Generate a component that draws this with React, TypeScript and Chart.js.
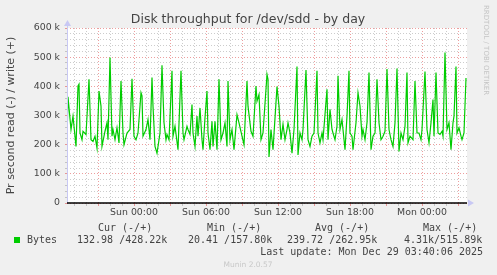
import React, { useEffect, useRef } from "react";
import { Chart, registerables } from "chart.js";

Chart.register(...registerables);

// minutes relative to Sun 00:00
const times = [
  -335, -330, -315, -305, -290, -280, -275, -270, -260, -255, -240, -225, -215, -205, -195, -185,
  -175, -165, -160, -145, -135, -130, -120, -110, -105, -95, -85, -75, -65, -55, -50, -35,
  -20, -10, 0, 10, 20, 35, 40, 45, 60, 70, 80, 90, 95, 105, 115, 130,
  140, 150, 160, 165, 175, 190, 195, 205, 220, 235, 245, 250, 265, 270, 280, 290,
  295, 305, 315, 320, 330, 340, 345, 355, 365, 370, 380, 390, 395, 405, 415, 425,
  435, 445, 455, 465, 470, 480, 490, 500, 515, 525, 540, 550, 565, 570, 585, 595,
  610, 615, 625, 635, 645, 665, 670, 675, 685, 695, 715, 725, 735, 745, 755, 765,
  770, 780, 790, 800, 815, 820, 830, 840, 845, 860, 870, 880, 890, 900, 915, 920,
  930, 940, 945, 965, 970, 980, 990, 995, 1005, 1015, 1020, 1030, 1040, 1045, 1055, 1065,
  1075, 1080, 1090, 1095, 1110, 1120, 1130, 1140, 1145, 1155, 1165, 1175, 1185, 1195, 1205, 1215,
  1225, 1235, 1245, 1255, 1265, 1275, 1285, 1295, 1305, 1315, 1325, 1335, 1345, 1355, 1365, 1370,
  1380, 1395, 1405, 1415, 1425, 1435, 1440, 1455, 1465, 1475, 1485, 1495, 1500, 1510, 1520, 1530,
  1540, 1545, 1555, 1565, 1575, 1585, 1595, 1600, 1610, 1615, 1625, 1635, 1640, 1650, 1660,
];

// write (+) bytes per second, in thousands
const writeK = [
  217, 364, 252, 298, 194, 401, 407, 240, 217, 246, 235, 424, 217, 211, 229, 188,
  384, 332, 194, 246, 275, 217, 499, 229, 252, 217, 258, 206, 418, 240, 200, 240,
  252, 426, 229, 217, 240, 378, 367, 229, 252, 286, 217, 430, 332, 194, 171, 240,
  472, 275, 217, 235, 217, 453, 229, 263, 183, 453, 240, 217, 263, 252, 235, 338,
  240, 194, 298, 229, 326, 217, 183, 292, 384, 240, 183, 280, 194, 280, 183, 424,
  217, 240, 275, 194, 418, 217, 252, 183, 303, 275, 229, 200, 418, 332, 246, 229,
  401, 349, 372, 217, 240, 441, 424, 158, 252, 183, 399, 332, 217, 270, 217, 252,
  275, 240, 171, 252, 468, 165, 240, 217, 252, 456, 217, 194, 229, 240, 453, 240,
  206, 240, 217, 390, 217, 321, 252, 240, 217, 263, 436, 252, 286, 252, 183, 298,
  453, 240, 229, 183, 275, 378, 332, 229, 252, 217, 275, 447, 183, 229, 240, 424,
  275, 217, 229, 246, 459, 252, 217, 194, 275, 461, 177, 240, 217, 263, 447, 206,
  229, 217, 418, 240, 240, 217, 252, 451, 252, 206, 275, 355, 229, 447, 240, 235,
  246, 229, 516, 252, 275, 183, 275, 298, 468, 240, 258, 229, 217, 240, 428.22,
];

const xMin = -335;
const xMax = 1665;
const yMax = 600000;
const yStep = 20000;
const xStepMinutes = 60;
const dayNames = ["Sat", "Sun", "Mon"];

const title = "Disk throughput for /dev/sdd - by day";
const yTitle = "Pr second read (-) / write (+)";
const legendHeaders = ["Cur (-/+)", "Min (-/+)", "Avg (-/+)", "Max (-/+)"];
const seriesName = "Bytes";
const legendValues = ["132.98 /428.22k", "20.41 /157.80k", "239.72 /262.95k", "4.31k/515.89k"];
const lastUpdate = "Last update: Mon Dec 29 03:40:06 2025";
const footer = "Munin 2.0.57";
const watermark = "RRDTOOL / TOBI OETIKER";

const SANS = "'DejaVu Sans', sans-serif";
const MONO = "'DejaVu Sans Mono', monospace";
const TEXT = "#444";
const GREEN = "#00CC00";
const MAJOR = "rgba(222,79,79,0.55)";
const MINOR = "rgba(143,143,143,0.45)";
const ARROW = "#c8c8f4";

const pad = (n: number) => (n < 10 ? "0" + n : "" + n);

const munin = {
  id: "munin",
  beforeDraw(chart: any) {
    const { ctx, chartArea: a, width, height } = chart;
    ctx.save();
    ctx.fillStyle = "#F0F0F0";
    ctx.fillRect(0, 0, width, height);
    ctx.fillStyle = "#FFFFFF";
    ctx.fillRect(a.left, a.top, a.right - a.left, a.bottom - a.top);
    ctx.restore();
  },
  afterDraw(chart: any) {
    const { ctx, chartArea: a } = chart;
    ctx.save();
    // left axis
    ctx.strokeStyle = ARROW;
    ctx.lineWidth = 1;
    ctx.beginPath();
    ctx.moveTo(a.left + 0.5, a.bottom);
    ctx.lineTo(a.left + 0.5, a.top - 6);
    ctx.stroke();
    ctx.fillStyle = ARROW;
    ctx.beginPath();
    ctx.moveTo(a.left - 3, a.top - 2);
    ctx.lineTo(a.left + 4, a.top - 2);
    ctx.lineTo(a.left + 0.5, a.top - 8);
    ctx.closePath();
    ctx.fill();
    // right arrow
    ctx.beginPath();
    ctx.moveTo(a.right + 1, a.bottom - 3.5);
    ctx.lineTo(a.right + 1, a.bottom + 3.5);
    ctx.lineTo(a.right + 7, a.bottom);
    ctx.closePath();
    ctx.fill();
    // zero line
    ctx.strokeStyle = "#000";
    ctx.lineWidth = 1.5;
    ctx.beginPath();
    ctx.moveTo(a.left, a.bottom);
    ctx.lineTo(a.right, a.bottom);
    ctx.stroke();

    // title
    ctx.fillStyle = TEXT;
    ctx.font = `12.5px ${SANS}`;
    ctx.textAlign = "center";
    ctx.textBaseline = "middle";
    ctx.fillText(title, 248, 20);

    // y title
    ctx.save();
    ctx.translate(11, (a.top + a.bottom) / 2);
    ctx.rotate(-Math.PI / 2);
    ctx.font = `11px ${SANS}`;
    ctx.fillText(yTitle, 0, 0);
    ctx.restore();

    // watermark
    ctx.save();
    ctx.translate(486, 5);
    ctx.rotate(Math.PI / 2);
    ctx.fillStyle = "#c4c4c4";
    ctx.font = `7px ${SANS}`;
    ctx.textAlign = "left";
    ctx.fillText(watermark, 0, 0);
    ctx.restore();

    // legend
    ctx.font = `10px ${MONO}`;
    ctx.textAlign = "left";
    ctx.fillStyle = TEXT;
    const cols = [98, 207, 315, 423];
    legendHeaders.forEach((h, i) => ctx.fillText(h, cols[i], 228));
    const valCols = [77, 188, 287, 404];
    ctx.fillStyle = GREEN;
    ctx.fillRect(14, 237, 6, 6);
    ctx.fillStyle = TEXT;
    ctx.fillText(seriesName, 27, 240);
    legendValues.forEach((v, i) => ctx.fillText(v, valCols[i], 240));
    ctx.textAlign = "right";
    ctx.fillText(lastUpdate, 483, 252);

    ctx.textAlign = "center";
    ctx.fillStyle = "#c8c8c8";
    ctx.font = `7.5px ${SANS}`;
    ctx.fillText(footer, 248, 265);
    ctx.restore();
  },
};

export default function App() {
  const ref = useRef<HTMLCanvasElement | null>(null);
  useEffect(() => {
    document.body.style.margin = "0";
    const canvas = ref.current!;
    const data = times.map((t, i) => ({ x: t, y: writeK[i] * 1000 }));
    const chart = new Chart(canvas, {
      type: "line",
      data: {
        datasets: [
          {
            label: seriesName,
            data,
            borderColor: GREEN,
            borderWidth: 1.2,
            pointRadius: 0,
            tension: 0,
            fill: false,
          },
        ],
      },
      options: {
        responsive: false,
        animation: false,
        devicePixelRatio: 1,
        layout: { padding: { left: 0, right: 30, top: 28, bottom: 52 } },
        plugins: { legend: { display: false }, title: { display: false }, tooltip: { enabled: false } },
        scales: {
          x: {
            type: "linear",
            min: xMin,
            max: xMax,
            afterFit: (s: any) => {
              s.height = 20;
            },
            border: { display: false, dash: [1, 2] },
            grid: {
              color: (c: any) => (c.tick && c.tick.value % 180 === 0 ? MAJOR : MINOR),
              lineWidth: 1,
              drawTicks: true,
              tickLength: 3,
            },
            ticks: {
              stepSize: xStepMinutes,
              maxTicksLimit: 200,
              includeBounds: false,
              autoSkip: false,
              maxRotation: 0,
              padding: 1,
              color: TEXT,
              font: { family: SANS, size: 9.4 },
              callback: (v: any) => {
                const m = Number(v);
                if (m % 360 !== 0) return "";
                const day = Math.floor(m / 1440);
                const mm = ((m % 1440) + 1440) % 1440;
                return `${dayNames[day + 1]} ${pad(Math.floor(mm / 60))}:${pad(mm % 60)}`;
              },
            },
          },
          y: {
            min: 0,
            max: yMax,
            afterFit: (s: any) => {
              s.width = 67;
            },
            border: { display: false, dash: [1, 2] },
            grid: {
              color: (c: any) => (c.tick && c.tick.value % 100000 === 0 ? MAJOR : MINOR),
              lineWidth: 1,
              drawTicks: true,
              tickLength: 2,
            },
            ticks: {
              stepSize: yStep,
              maxTicksLimit: 200,
              autoSkip: false,
              padding: 5,
              color: TEXT,
              font: { family: SANS, size: 9.4 },
              callback: (v: any) => {
                const n = Number(v);
                if (n % 100000 !== 0) return "";
                return n === 0 ? "0" : `${n / 1000} k`;
              },
            },
          },
        },
      },
      plugins: [munin],
    });
    return () => chart.destroy();
  }, []);
  return (
    <div style={{ position: "fixed", left: 0, top: 0 }}>
      <canvas ref={ref} width={497} height={275} />
    </div>
  );
}
